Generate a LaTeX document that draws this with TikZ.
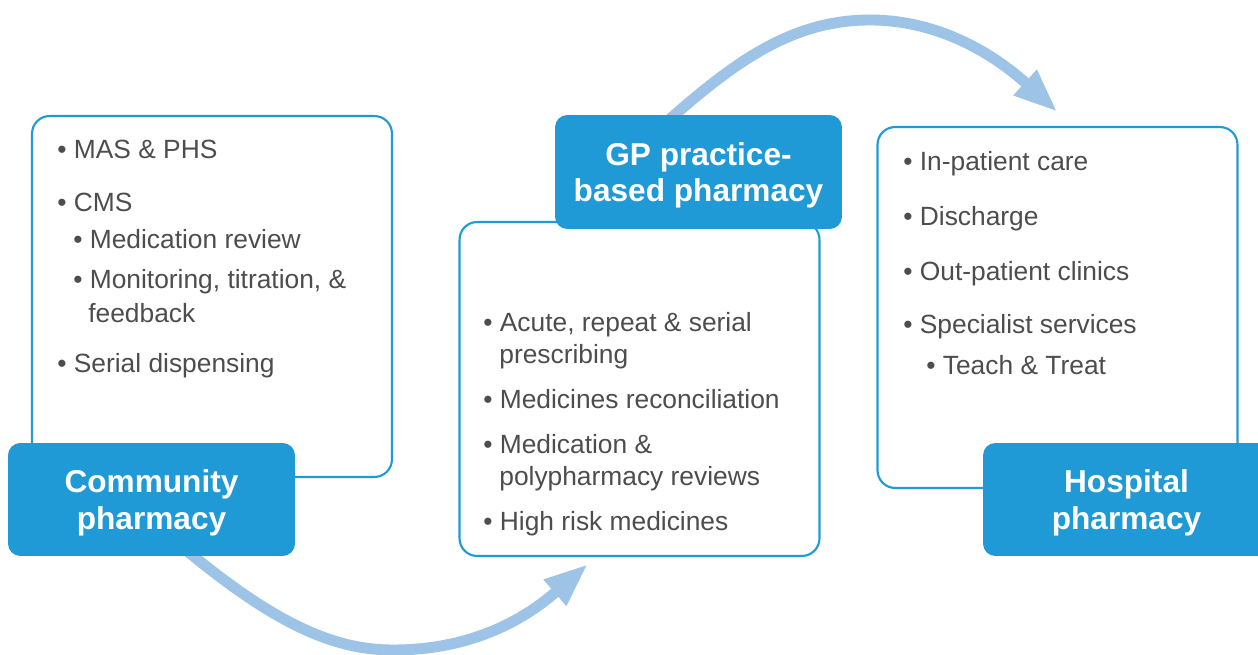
\documentclass[tikz,border=0pt]{standalone}
\usepackage{fontspec}
\setmainfont{Liberation Sans}
\usetikzlibrary{arrows.meta}
\definecolor{tagblue}{HTML}{1F9AD6}
\definecolor{flowblue}{HTML}{9DC3E6}
\definecolor{txtgrey}{HTML}{4D4D4D}
\pgfdeclarelayer{back}
\pgfsetlayers{back,main}
\newcommand{\bul}{\textbullet\ }
\tikzset{
  listbox/.style={draw=tagblue, line width=1.2pt, fill=white, rounded corners=10pt, minimum width=7.2cm},
  tagbox/.style={fill=tagblue, text=white, rounded corners=7pt, minimum width=5.74cm, minimum height=2.26cm, align=center, text depth=0pt, font=\fontsize{18}{21}\selectfont\bfseries},
  item/.style={anchor=base west, inner sep=0pt, text=txtgrey, font=\fontsize{15}{18}\selectfont},
  flow/.style={draw=flowblue, line width=6.2pt, -{Triangle[width=18pt,length=25pt]}}
}

\begin{document}
\begin{tikzpicture}[x=0.02cm, y=-0.02cm]
\useasboundingbox (0,0) rectangle (1258,655);
% white boxes
\node[listbox, minimum height=7.22cm] (commbox) at (212,296.5) {};
\node[listbox, minimum height=6.68cm] (gpbox) at (639.5,389) {};
\node[listbox, minimum height=7.22cm] (hospbox) at (1057.5,307.5) {};
% blue tags
\node[tagbox] (commtag) at (151.5,499.5) {Community\\pharmacy};
\node[tagbox, minimum height=2.28cm] (gptag) at (698.5,172) {GP practice-\\based pharmacy};
\node[tagbox] (hosptag) at (1126.5,499.5) {Hospital\\pharmacy};
% lists
\foreach \x/\y/\t [count=\i] in {57/159/\bul MAS \& PHS, 57/212/\bul CMS, 73/249/\bul Medication review,
    73/289/{\bul Monitoring, titration, \&}, 88/322/feedback, 57/372/\bul Serial dispensing}
  \node[item] (comm\i) at (\x,\y) {\t};
\foreach \x/\y/\t [count=\i] in {483/332/{\bul Acute, repeat \& serial}, 499/363/prescribing,
    483/408/\bul Medicines reconciliation, 483/453/\bul Medication \&, 499/485/polypharmacy reviews,
    483/530/\bul High risk medicines}
  \node[item] (gp\i) at (\x,\y) {\t};
\foreach \x/\y/\t [count=\i] in {903/171/\bul In-patient care, 903/226/\bul Discharge, 903/281/\bul Out-patient clinics,
    903/334/\bul Specialist services, 926/375/\bul Teach \& Treat}
  \node[item] (hosp\i) at (\x,\y) {\t};
% arrows
\begin{pgfonlayer}{back}
\draw[flow] ([xshift=0.6cm,yshift=0.2cm]commtag.south) .. controls (270,620) and (330,650) .. (393,650)
  .. controls (483,650) and (535,610) .. ([xshift=-1.03cm,yshift=-0.14cm]gpbox.south);
\draw[flow] ([xshift=-0.7cm,yshift=-0.2cm]gptag.north) .. controls (732,64) and (790,20) .. (870,20)
  .. controls (950,20) and (1007,66) .. ([yshift=0.28cm]hospbox.north);
\end{pgfonlayer}
\end{tikzpicture}
\end{document}
